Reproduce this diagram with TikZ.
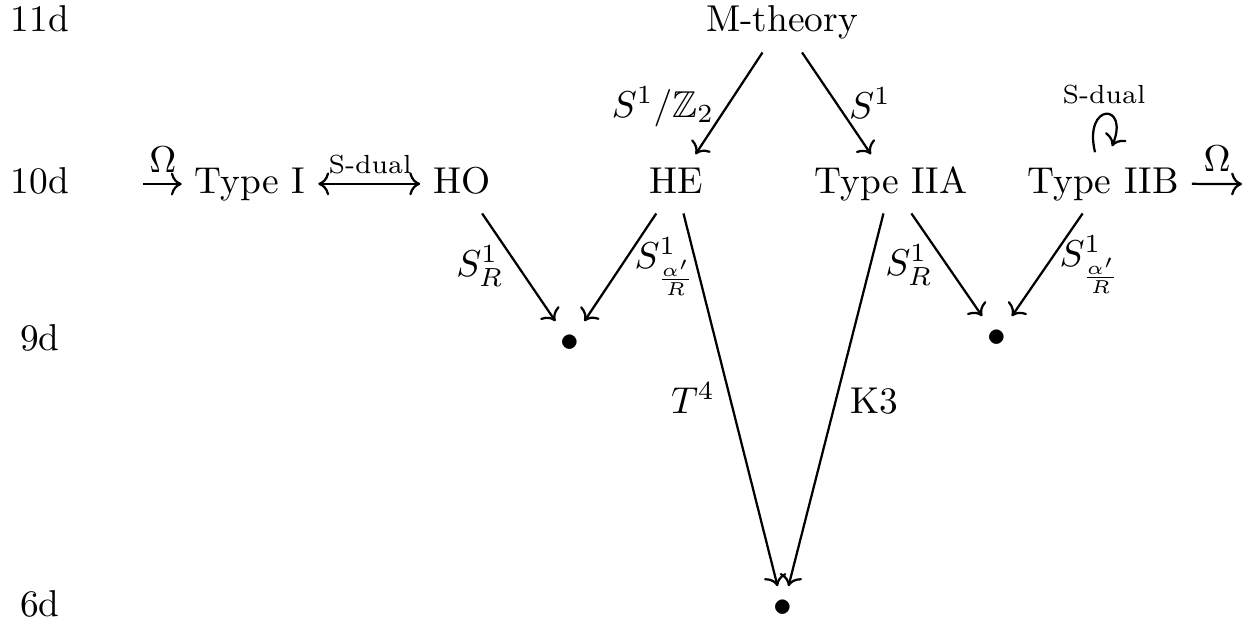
\documentclass[tikz,border=0pt]{standalone}
\usepackage{amssymb}
\usetikzlibrary{arrows.meta}
\begin{document}
\begin{tikzpicture}[x=0.26738pt, y=-0.26738pt,
  lbl/.style={anchor=base, inner sep=0pt},
  obj/.style={anchor=base, inner sep=3.33pt, text height=6.83pt, text depth=1.94pt},
  dotnode/.style={anchor=base, inner sep=3.33pt},
  arr/.style={line width=0.6pt, -{Computer Modern Rightarrow}},
  darr/.style={line width=0.6pt, {Computer Modern Rightarrow}-{Computer Modern Rightarrow}},
  small/.style={font=\scriptsize, anchor=base, inner sep=0pt}]
\useasboundingbox (0,0) rectangle (1254,630);

% row labels
\node[lbl] (d11) at (40,32) {11d};
\node[lbl] (d10) at (40,193) {10d};
\node[lbl] (d9) at (40,350) {9d};
\node[lbl] (d6) at (40,616) {6d};

% objects
\node[obj] (m) at (782,32) {M-theory};
\node[obj] (t1) at (250,193) {Type I};
\node[obj] (ho) at (462,193) {HO};
\node[obj] (he) at (676,193) {HE};
\node[obj] (iia) at (891,193) {Type IIA};
\node[obj] (iib) at (1103,193) {Type IIB};
\node[dotnode] (b9a) at (570,351) {$\bullet$};
\node[dotnode] (b9b) at (997,346) {$\bullet$};
\node[dotnode] (b6) at (783,616) {$\bullet$};

% free ends
\coordinate (omL) at (143,184);
\coordinate (omR) at (1242,184);

% connectors
\draw[arr] (omL) -- (omL -| t1.west);
\draw[arr] (iib.east) -- (omR);
\draw[darr] (t1.east) -- (t1.east -| ho.west);
\draw[arr] (m) -- (he);
\draw[arr] (m) -- (iia);
\draw[arr] (ho) -- (b9a);
\draw[arr] (he) -- (b9a);
\draw[arr] (he) -- (b6);
\draw[arr] (iia) -- (b6);
\draw[arr] (iia) -- (b9b);
\draw[arr] (iib) -- (b9b);
\draw[arr] ([shift={(-8,-2)}]iib.north) .. controls +(-12,-50) and +(18,-44) .. ([shift={(9,-8)}]iib.north);

% labels
\node[lbl] (lomL) at (163,172) {$\Omega$};
\node[lbl] (lomR) at (1217,171) {$\Omega$};
\node[small] (lsd) at (370,173) {S-dual};
\node[small] (lsd2) at (1104,103) {S-dual};
\node[lbl] (lz2) at (663,117) {$S^1/\mathbb{Z}_2$};
\node[lbl] (ls1) at (870,118) {$S^1$};
\node[lbl] (lr1) at (480,276) {$S^1_R$};
\node[lbl] (la1) at (665,268) {$S^1_{\frac{\alpha'}{R}}$};
\node[lbl] (lr2) at (909,275) {$S^1_R$};
\node[lbl] (la2) at (1090,266) {$S^1_{\frac{\alpha'}{R}}$};
\node[lbl] (lt4) at (693,413) {$T^4$};
\node[lbl] (lk3) at (874,413) {K3};
\end{tikzpicture}
\end{document}
